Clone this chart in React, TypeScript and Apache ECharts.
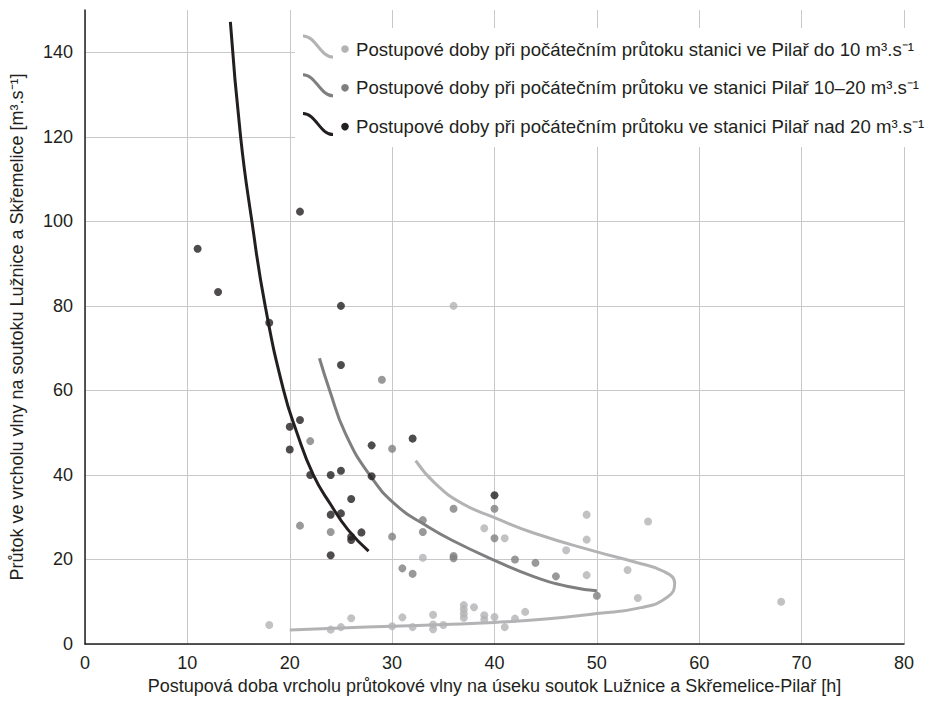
import React, { useEffect, useRef } from "react";
import * as echarts from "echarts";

const seriesNames = [
  "Postupové doby při počátečním průtoku stanici ve Pilař do 10 m³.s⁻¹",
  "Postupové doby při počátečním průtoku ve stanici Pilař 10–20 m³.s⁻¹",
  "Postupové doby při počátečním průtoku ve stanici Pilař nad 20 m³.s⁻¹",
];
const xAxisTitle = "Postupová doba vrcholu průtokové vlny na úseku soutok Lužnice a Skřemelice-Pilař [h]";
const yAxisTitle = "Průtok ve vrcholu vlny na soutoku Lužnice a Skřemelice [m³.s⁻¹]";

// Measured points [travel time h, peak flow m3/s]
const lowFlowPoints: number[][] = [
  [18, 4.5], [24, 3.4], [25, 4.0], [26, 6.1], [30, 4.2], [31, 6.3], [32, 4.0], [33, 20.4],
  [34, 6.9], [34, 4.6], [34, 3.5], [35, 4.5], [36, 80], [37, 9.2], [37, 8.2], [37, 7.2],
  [37, 6.2], [38, 8.7], [39, 27.4], [39, 6.8], [39, 5.8], [40, 6.4], [41, 25], [41, 4.0],
  [42, 6.0], [43, 7.6], [47, 22.2], [49, 30.6], [49, 24.7], [49, 16.3], [53, 17.5],
  [54, 10.9], [55, 29], [68, 10],
];
const midFlowPoints: number[][] = [
  [21, 28], [22, 48], [24, 26.5], [29, 62.5], [30, 46.2], [30, 25.4], [31, 17.9], [32, 16.6],
  [33, 29.3], [33, 26.5], [36, 32], [36, 20.8], [36, 20.3], [40, 32], [40, 25], [42, 20],
  [44, 19.2], [46, 16], [50, 11.4],
];
const highFlowPoints: number[][] = [
  [11, 93.5], [13, 83.3], [18, 76], [20, 51.4], [20, 46], [21, 102.3], [21, 53], [22, 40],
  [24, 40], [24, 30.6], [24, 21], [25, 80], [25, 66], [25, 41], [25, 30.9], [26, 34.3],
  [26, 25.4], [26, 24.6], [27, 26.4], [28, 47], [28, 39.7], [32, 48.6], [40, 35.2],
];

// Fitted curves
const lowFlowCurve: number[][] = [
  [32.3, 43.4], [34.2, 38], [36.8, 33.3], [40, 29.9], [43.9, 26.2], [50, 21.8], [53.7, 19.4],
  [56.6, 17.1], [57.6, 14.3], [56.9, 11.1], [54.3, 8.6], [50, 7.2], [45, 5.9], [40, 5.1],
  [35, 4.6], [30, 4.2], [25, 3.8], [20, 3.3],
];
const midFlowCurve: number[][] = [
  [22.9, 67.6], [23.9, 60], [25.4, 50], [27.8, 40], [30.5, 32.6], [33.2, 28.2], [35.8, 24.6],
  [40, 19.8], [43.9, 15.9], [47.2, 13.6], [50, 12.6],
];
const highFlowCurve: number[][] = [
  [14.2, 147.2], [15.2, 120], [16.3, 100], [17.6, 80], [19.4, 60], [20.7, 50], [22.3, 40],
  [24.0, 33], [25.7, 27], [27.7, 22],
];

const colors = ["#b3b3b5", "#7f7f81", "#231f20"];
const FONT = "'Liberation Sans', Arial, Helvetica, sans-serif";

export default function App() {
  const ref = useRef<HTMLDivElement>(null);
  useEffect(() => {
    if (!ref.current) return;
    const chart = echarts.init(ref.current, undefined, { renderer: "svg" });
    const pointSets = [lowFlowPoints, midFlowPoints, highFlowPoints];
    const curveSets = [lowFlowCurve, midFlowCurve, highFlowCurve];

    const legendRows = seriesNames.map((name, i) => {
      const cy = 49 + i * 38.8;
      return [
        {
          type: "bezierCurve",
          shape: { x1: 303, y1: cy - 13, cpx1: 316, cpy1: cy - 13, cpx2: 320, cpy2: cy + 8, x2: 333, y2: cy + 8 },
          style: { stroke: colors[i], lineWidth: 3, fill: null },
          z: 11,
        },
        { type: "circle", shape: { cx: 345, cy, r: 3.8 }, style: { fill: colors[i] }, z: 11 },
        {
          type: "text",
          x: 356,
          y: cy,
          style: { text: name, fill: "#231f20", font: `18.6px ${FONT}`, verticalAlign: "middle", align: "left" },
          z: 11,
        },
      ];
    }).flat();

    chart.setOption({
      animation: false,
      backgroundColor: "#ffffff",
      grid: { left: 84, right: 30, top: 10, bottom: 65, containLabel: false },
      xAxis: {
        type: "value",
        min: 0,
        max: 80,
        interval: 10,
        name: xAxisTitle,
        nameLocation: "middle",
        nameGap: 42,
        nameMoveOverlap: false,
        nameTextStyle: { fontFamily: FONT, fontSize: 18, color: "#231f20", verticalAlign: "middle" },
        axisLine: { show: true, onZero: false, lineStyle: { color: "#231f20", width: 1.5 } },
        axisTick: { show: false },
        axisLabel: { fontFamily: FONT, fontSize: 18, color: "#231f20", margin: 10 },
        splitLine: { show: true, lineStyle: { color: "#c8c8ca", width: 1 } },
      },
      yAxis: {
        type: "value",
        min: 0,
        max: 150,
        interval: 20,
        name: yAxisTitle,
        nameLocation: "middle",
        nameGap: 68,
        nameMoveOverlap: false,
        nameTextStyle: { fontFamily: FONT, fontSize: 18, color: "#231f20", verticalAlign: "middle" },
        axisLine: { show: true, onZero: false, lineStyle: { color: "#231f20", width: 1.5 } },
        axisTick: { show: false },
        axisLabel: { fontFamily: FONT, fontSize: 18, color: "#231f20", margin: 12, showMaxLabel: false },
        splitLine: { show: true, showMaxLine: false, lineStyle: { color: "#c8c8ca", width: 1 } },
      },
      series: [
        ...curveSets.map((d, i) => ({
          type: "line",
          name: seriesNames[i] + " (křivka)",
          data: d,
          smooth: 0.5,
          showSymbol: false,
          symbol: "none",
          lineStyle: { color: colors[i], width: 3 },
          z: 3,
        })),
        ...pointSets.map((d, i) => ({
          type: "scatter",
          name: seriesNames[i],
          data: d,
          symbol: "circle",
          symbolSize: 8,
          itemStyle: { color: colors[i] },
          z: 4,
        })),
      ],
      graphic: [
        {
          type: "rect",
          shape: { x: 295, y: 28, width: 639, height: 119 },
          style: { fill: "#ffffff" },
          z: 10,
        },
        ...legendRows,
      ],
    });
    return () => chart.dispose();
  }, []);
  return <div ref={ref} style={{ width: 934, height: 709, position: "absolute", left: 0, top: 0 }} />;
}
